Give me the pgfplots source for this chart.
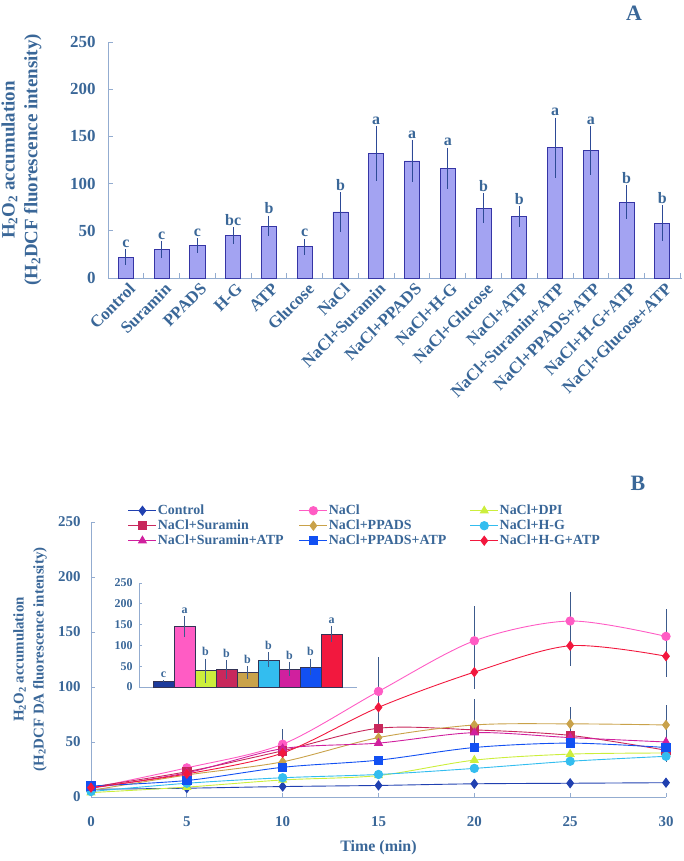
\documentclass[border=0pt]{standalone}
\usepackage{fontspec}
\setmainfont{Liberation Serif}
\usepackage{pgfplots}
\usepackage{pgfplotstable}
\pgfplotsset{compat=1.18}

\definecolor{txt}{HTML}{3A6798}
\definecolor{axcol}{HTML}{93ACD0}
\definecolor{barA}{HTML}{A3A3F2}
\definecolor{barAline}{HTML}{3535A5}
\definecolor{errA}{HTML}{2D4A96}
\definecolor{errB}{HTML}{3C5A8C}
\definecolor{barline}{HTML}{333355}
\definecolor{cCtrl}{HTML}{2040B0}
\definecolor{cNaCl}{HTML}{FF5CC4}
\definecolor{cDPI}{HTML}{CCEE3C}
\definecolor{cSur}{HTML}{C8285C}
\definecolor{cPPADS}{HTML}{C9A24A}
\definecolor{cHG}{HTML}{33BDEF}
\definecolor{cSurATP}{HTML}{D0209E}
\definecolor{cPPADSATP}{HTML}{1250F2}
\definecolor{cHGATP}{HTML}{F2183E}
\definecolor{iCtrl}{HTML}{1C3A9C}

% panel A: mean, error, letter
\pgfplotstableread{
x  y    e    lab
0  22   8.5  c
1  30   9    c
2  34   8    c
3  45   8.5  bc
4  55   11   b
5  33   8.5  c
6  70   21   b
7  132  29   a
8  124  22   a
9  116  22   a
10 74   16   b
11 65   11   b
12 138  32   a
13 135  26   a
14 80   18   b
15 58   19   b
}\datA

\pgfplotsset{
  ser/.style n args={3}{color=#1, line width=0.9bp, smooth, mark=#2, mark size=#3,
    mark options={solid, fill=#1, draw=#1}},
  witherr/.style={error bars/.cd, y dir=both, y explicit, error mark=none,
    error bar style={draw=errB, line width=0.8bp}},
  ibar/.style={ybar, bar width=1, bar shift=0pt, fill=#1, draw=barline, line width=0.5bp,
    error bars/.cd, y dir=both, y explicit, error mark=none,
    error bar style={draw=errB, line width=0.7bp}},
}

\begin{document}
\begin{tikzpicture}
\useasboundingbox (0bp,0bp) rectangle (684bp,861bp);

% ---------------- panel A
\begin{axis}[
  at={(108bp,583bp)}, anchor=south west, scale only axis,
  width=574bp, height=236bp,
  xmin=-0.5, xmax=15.55, ymin=0, ymax=250,
  ytick={0,50,...,250},
  xtick={0,...,15},
  xticklabels={Control,Suramin,PPADS,H-G,ATP,Glucose,NaCl,NaCl+Suramin,NaCl+PPADS,NaCl+H-G,NaCl+Glucose,NaCl+ATP,NaCl+Suramin+ATP,NaCl+PPADS+ATP,NaCl+H-G+ATP,NaCl+Glucose+ATP},
  axis lines=left, axis line style={-, draw=axcol, line width=0.8bp},
  tick align=inside, major tick length=5bp, tick style={draw=axcol, line width=0.8bp},
  xtick style={draw=none},
  extra x ticks={0.5,1.5,...,15.5},
  extra x tick style={xticklabel={}, xtick style={draw=axcol}},
  /pgf/number format/assume math mode=true,
  ticklabel style={font=\fontsize{17}{19}\selectfont\bfseries, text=txt},
  yticklabel style={xshift=-9bp},
  xticklabel style={rotate=45, anchor=north east, inner sep=1bp, yshift=-3bp},
  every axis y label/.style={at={(axis description cs:-0.1507,0.5)}, rotate=90,
    anchor=center, align=center, font=\fontsize{19}{23}\selectfont\bfseries, text=txt},
  ylabel={H\textsubscript{2}O\textsubscript{2} accumulation\\(H\textsubscript{2}DCF fluorescence intensity)},
  clip=false,
]
\addplot[ybar, bar width=0.42, fill=barA, draw=barAline, line width=0.8bp,
  error bars/.cd, y dir=both, y explicit, error mark=none,
  error bar style={draw=errA, line width=0.9bp}]
  table[x=x, y=y, y error=e] {\datA};
\addplot[draw=none, mark=none, nodes near coords, point meta=explicit symbolic,
  every node near coord/.append style={font=\fontsize{16}{18}\selectfont\bfseries,
    text=txt, anchor=south, inner sep=1.5bp}]
  table[x=x, y expr=\thisrow{y}+\thisrow{e}, meta=lab] {\datA};
\end{axis}
\node[font=\fontsize{22}{24}\selectfont\bfseries, text=txt] at (634bp,848bp) {A};

% ---------------- panel B
\begin{axis}[
  at={(91bp,64bp)}, anchor=south west, scale only axis,
  width=575bp, height=275bp,
  xmin=0, xmax=30, ymin=0, ymax=250,
  xtick={0,5,...,30}, ytick={0,50,...,250},
  axis lines=left, axis line style={-, draw=axcol, line width=0.8bp},
  tick align=inside, major tick length=4bp, tick style={draw=axcol, line width=0.8bp},
  /pgf/number format/assume math mode=true,
  ticklabel style={font=\fontsize{15}{17}\selectfont\bfseries, text=txt},
  yticklabel style={xshift=-7bp},
  xticklabel style={yshift=-16bp},
  every axis y label/.style={at={(axis description cs:-0.106,0.5)}, rotate=90,
    anchor=center, align=center, font=\fontsize{15}{20}\selectfont\bfseries, text=txt},
  ylabel={H\textsubscript{2}O\textsubscript{2} accumulation\\(H\textsubscript{2}DCF DA fluorescence intensity)},
  every axis x label/.style={at={(axis description cs:0.5,-0.1855)}, anchor=center,
    font=\fontsize{16}{18}\selectfont\bfseries, text=txt},
  xlabel={Time (min)},
  legend columns=3, legend cell align=left,
  legend style={at={(0.064,1.069)}, anchor=north west, draw=none, fill=none,
    font=\fontsize{14}{15}\selectfont\bfseries, text=txt, inner sep=0pt,
    nodes={inner sep=1bp, text height=10bp, text depth=3bp}},
  legend image code/.code={\draw[mark repeat=2,mark phase=2,#1]
    plot coordinates {(0bp,0bp) (14bp,0bp) (28bp,0bp)};},
  clip=false,
]
\addplot[ser={cCtrl}{diamond*}{4.5}] coordinates {
  (0,7) (5,8) (10,9.5) (15,10.5) (20,12) (25,12.5) (30,13)};
\addlegendentry{\makebox[140bp][l]{Control}}
\addplot[ser={cNaCl}{*}{4.2}, witherr] coordinates {
  (0,8) +- (0,0) (5,26.5) +- (0,3) (10,48) +- (0,13.5) (15,96) +- (0,31)
  (20,142) +- (0,31.5) (25,160) +- (0,26.5) (30,146) +- (0,24.5)};
\addlegendentry{\makebox[140bp][l]{NaCl}}
\addplot[ser={cDPI}{triangle*}{4.5}] coordinates {
  (0,4) (5,9) (10,15.5) (15,19.5) (20,33.5) (25,39) (30,40)};
\addlegendentry{NaCl+DPI}
\addplot[ser={cSur}{square*}{4.2}] coordinates {
  (0,9) (5,23) (10,42) (15,62.5) (20,61) (25,56) (30,42.5)};
\addlegendentry{\makebox[140bp][l]{NaCl+Suramin}}
\addplot[ser={cPPADS}{diamond*}{4.5}, witherr] coordinates {
  (0,6) +- (0,0) (5,20) +- (0,0) (10,32) +- (0,0) (15,54) +- (0,0)
  (20,65.5) +- (0,24) (25,66.5) +- (0,15) (30,65.5) +- (0,18)};
\addlegendentry{\makebox[140bp][l]{NaCl+PPADS}}
\addplot[ser={cHG}{*}{4.2}, witherr] coordinates {
  (0,5) +- (0,0) (5,12.5) +- (0,0) (10,17.5) +- (0,0) (15,20.5) +- (0,0)
  (20,26) +- (0,0) (25,32.5) +- (0,0) (30,37) +- (0,5)};
\addlegendentry{NaCl+H-G}
\addplot[ser={cSurATP}{triangle*}{4.5}] coordinates {
  (0,8) (5,22) (10,44) (15,49) (20,58.5) (25,54) (30,50)};
\addlegendentry{\makebox[140bp][l]{NaCl+Suramin+ATP}}
\addplot[ser={cPPADSATP}{square*}{4.2}] coordinates {
  (0,10) (5,15) (10,27) (15,33.5) (20,45) (25,49) (30,45)};
\addlegendentry{\makebox[140bp][l]{NaCl+PPADS+ATP}}
\addplot[ser={cHGATP}{diamond*}{4.5}, witherr] coordinates {
  (0,8.5) +- (0,0) (5,21) +- (0,0) (10,40) +- (0,0) (15,81.5) +- (0,0)
  (20,113.5) +- (0,15) (25,137.5) +- (0,18) (30,128) +- (0,19)};
\addlegendentry{NaCl+H-G+ATP}
\end{axis}
\node[font=\fontsize{22}{24}\selectfont\bfseries, text=txt] at (638bp,378bp) {B};

% ---------------- inset
\begin{axis}[
  at={(139bp,174bp)}, anchor=south west, scale only axis,
  width=218bp, height=104bp,
  xmin=-1.167, xmax=9.21, ymin=0, ymax=250,
  xtick=\empty, ytick={0,50,...,250},
  axis lines=left, axis line style={-, draw=axcol, line width=0.7bp},
  tick align=inside, major tick length=3bp, tick style={draw=axcol, line width=0.7bp},
  /pgf/number format/assume math mode=true,
  ticklabel style={font=\fontsize{12}{14}\selectfont\bfseries, text=txt},
  yticklabel style={xshift=-3bp},
  clip=false,
]
\addplot[ibar=iCtrl] coordinates {(0,14.5) +- (0,2)};
\addplot[ibar=cNaCl] coordinates {(1,146) +- (0,25)};
\addplot[ibar=cDPI] coordinates {(2,39.5) +- (0,29)};
\addplot[ibar=cSur] coordinates {(3,42) +- (0,22.5)};
\addplot[ibar=cPPADS] coordinates {(4,35) +- (0,15)};
\addplot[ibar=cHG] coordinates {(5,65) +- (0,18)};
\addplot[ibar=cSurATP] coordinates {(6,43.5) +- (0,17)};
\addplot[ibar=cPPADSATP] coordinates {(7,48.5) +- (0,20)};
\addplot[ibar=cHGATP] coordinates {(8,127) +- (0,20)};
\addplot[draw=none, mark=none, nodes near coords, point meta=explicit symbolic,
  every node near coord/.append style={font=\fontsize{12}{14}\selectfont\bfseries,
    text=txt, anchor=south, inner sep=2.5bp}]
  coordinates {(0,16.5)[c] (1,171)[a] (2,68.5)[b] (3,64.5)[b] (4,50)[b]
    (5,83)[b] (6,60.5)[b] (7,68.5)[b] (8,147)[a]};
\end{axis}
\end{tikzpicture}
\end{document}
